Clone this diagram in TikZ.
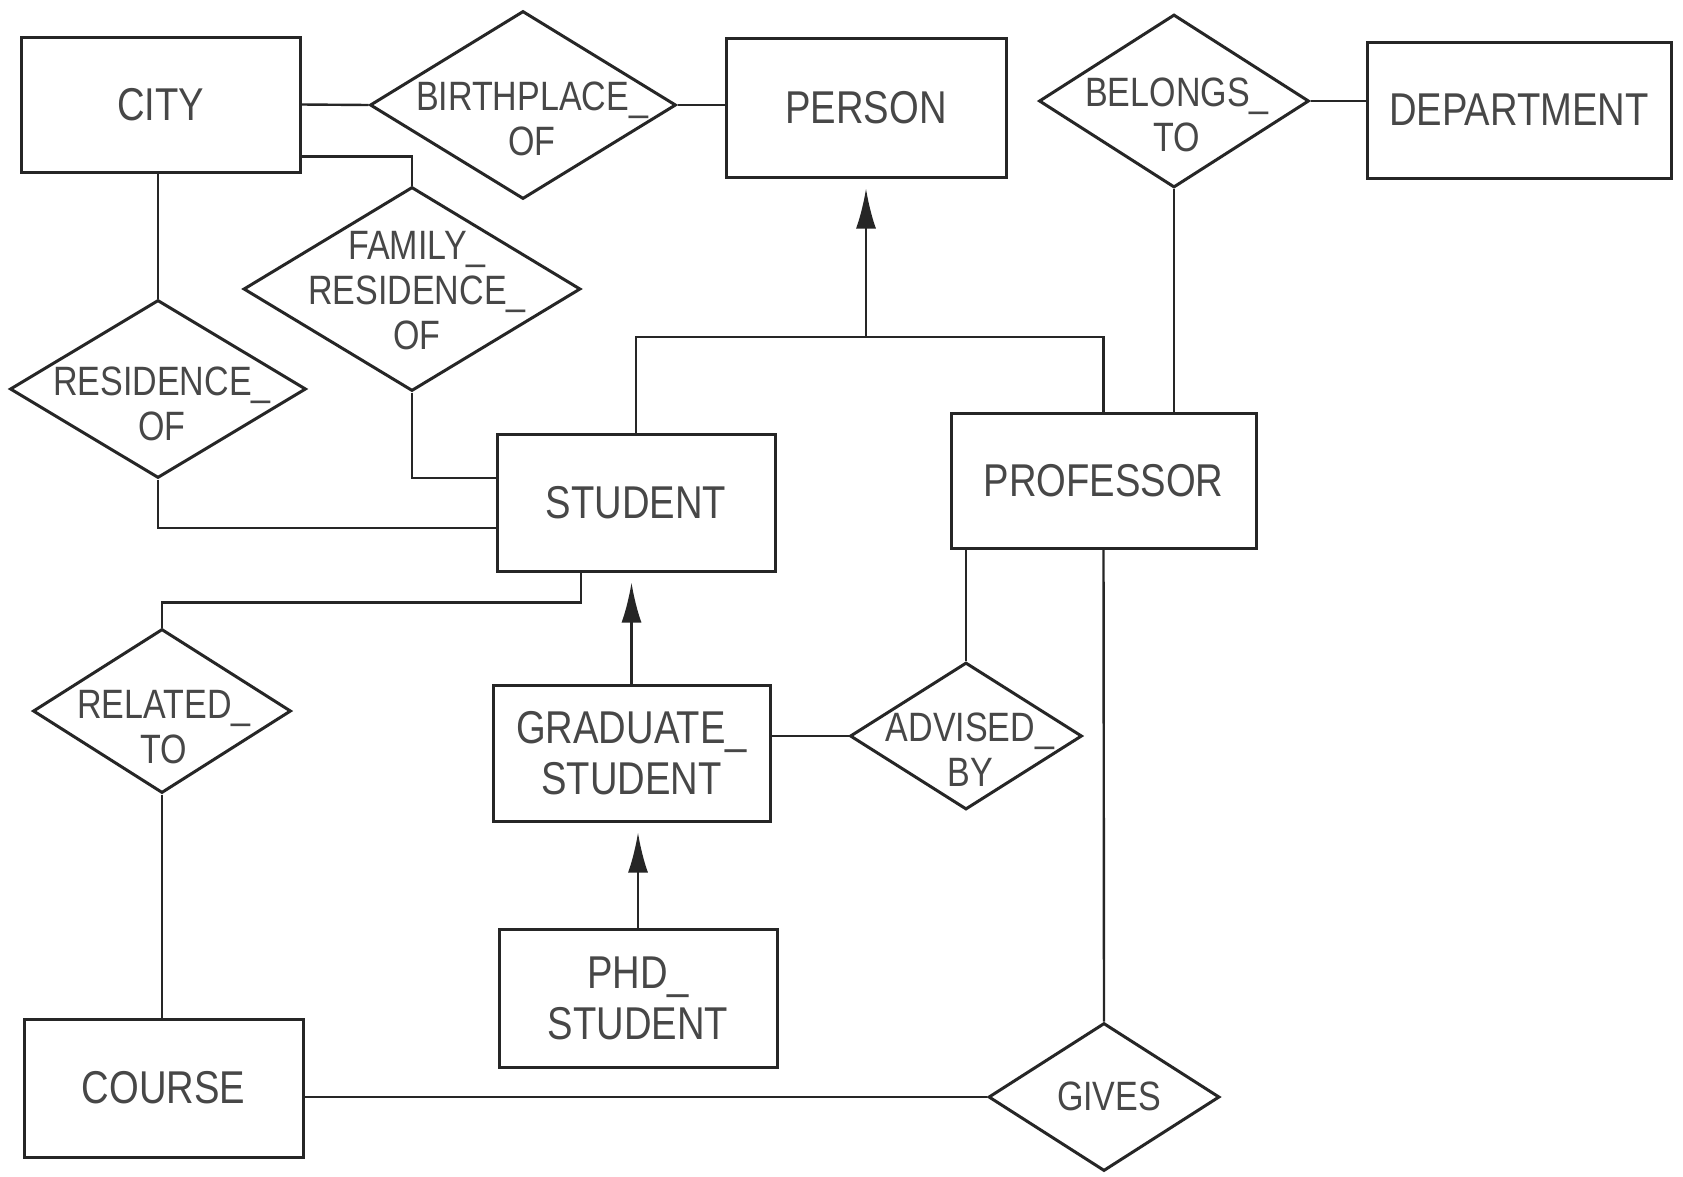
\documentclass[tikz,border=0pt]{standalone}
\usepackage{fontspec}
\setmainfont{Liberation Sans}[FakeStretch=0.83]
\usetikzlibrary{shapes.geometric,arrows.meta,calc}
\begin{document}
\begin{tikzpicture}[x=1pt,y=-1pt,
  ent/.style={draw=black!85, line width=3pt, rectangle, inner sep=0pt, align=center,
              font=\fontsize{46}{51}\selectfont, text=black!72},
  rel/.style={draw=black!85, line width=3pt, diamond, inner sep=0pt},
  rtext/.style={font=\fontsize{41}{45}\selectfont, align=center, text=black!72, inner sep=0pt},
  conn/.style={draw=black!85, line width=2.4pt},
  isa/.style={conn, -{Latex[length=40pt,width=20pt]}, shorten >=10pt}
]
\useasboundingbox[fill=white] (0,0) rectangle (1683,1176);

% entities
\node[ent, minimum width=279pt, minimum height=135pt] (city) at (160.5,104.5) {CITY};
\node[ent, minimum width=280pt, minimum height=139pt] (person) at (866,107.5) {PERSON};
\node[ent, minimum width=304pt, minimum height=136pt] (dept) at (1519,110) {DEPARTMENT};
\node[ent, minimum width=278pt, minimum height=137pt] (student) at (636,502.5) {STUDENT};
\node[ent, minimum width=305pt, minimum height=135pt] (prof) at (1103.5,480.5) {PROFESSOR};
\node[ent, minimum width=277pt, minimum height=136pt] (grad) at (631.5,753) {GRADUATE\_\\STUDENT};
\node[ent, minimum width=278pt, minimum height=138pt] (phd) at (638,998) {PHD\_\\STUDENT};
\node[ent, minimum width=279pt, minimum height=138pt] (course) at (163.5,1088) {COURSE};

% relationships
\node[rel, minimum width=306pt, minimum height=188pt] (bp) at (523,105) {};
\node[rtext] (bpt) at (532,119) {BIRTHPLACE\_\\OF};
\node[rel, minimum width=337pt, minimum height=204pt] (fam) at (412,289) {};
\node[rtext] (famt) at (417,291) {FAMILY\_\\RESIDENCE\_\\OF};
\node[rel, minimum width=296pt, minimum height=178pt] (res) at (158,389) {};
\node[rtext] (rest) at (162,404) {RESIDENCE\_\\OF};
\node[rel, minimum width=258pt, minimum height=164pt] (relto) at (162,711) {};
\node[rtext] (reltot) at (164,727) {RELATED\_\\TO};
\node[rel, minimum width=270pt, minimum height=173pt] (bel) at (1174,101) {};
\node[rtext] (belt) at (1177,115) {BELONGS\_\\TO};
\node[rel, minimum width=232pt, minimum height=147pt] (adv) at (966,736) {};
\node[rtext] (advt) at (970,750) {ADVISED\_\\BY};
\node[rel, minimum width=231pt, minimum height=148pt] (gives) at (1104,1097) {};
\node[rtext] (givest) at (1109,1096) {GIVES};

% connectors
\draw[conn] (city.east) -- (bp.west);
\draw[conn] (bp.east) -- (bp.east -| person.west);
\draw[conn] ([yshift=-52pt]city.east) -| (fam.north);
\draw[conn] (res.north |- city.south) -- (res.north);
\draw[conn] (res.south) |- ([yshift=-25.5pt]student.west);
\draw[conn] (fam.south) |- ([yshift=24.5pt]student.west);
\draw[conn] ([xshift=-55pt]student.south) -- ++(0,30) -| (relto.north);
\draw[conn] (relto.south) -- (relto.south |- course.north);
\draw[conn] (gives.west) -- (gives.west -| course.east);

\coordinate (isa1) at (866,337);
\draw[conn] (student.north) |- (isa1) -| (prof.north);
\draw[isa] (isa1) -- (person.south);
\draw[isa] (grad.north) -- (grad.north |- student.south);
\draw[isa] (phd.north) -- (phd.north |- grad.south);

\draw[conn] (bel.east) -- (bel.east -| dept.west);
\draw[conn] (bel.south) -- (bel.south |- prof.north);
\draw[conn] (adv.north |- prof.south) -- (adv.north);
\draw[conn] (adv.west) -- (adv.west -| grad.east);
\draw[conn] (prof.south) -- (gives.north);
\end{tikzpicture}
\end{document}
